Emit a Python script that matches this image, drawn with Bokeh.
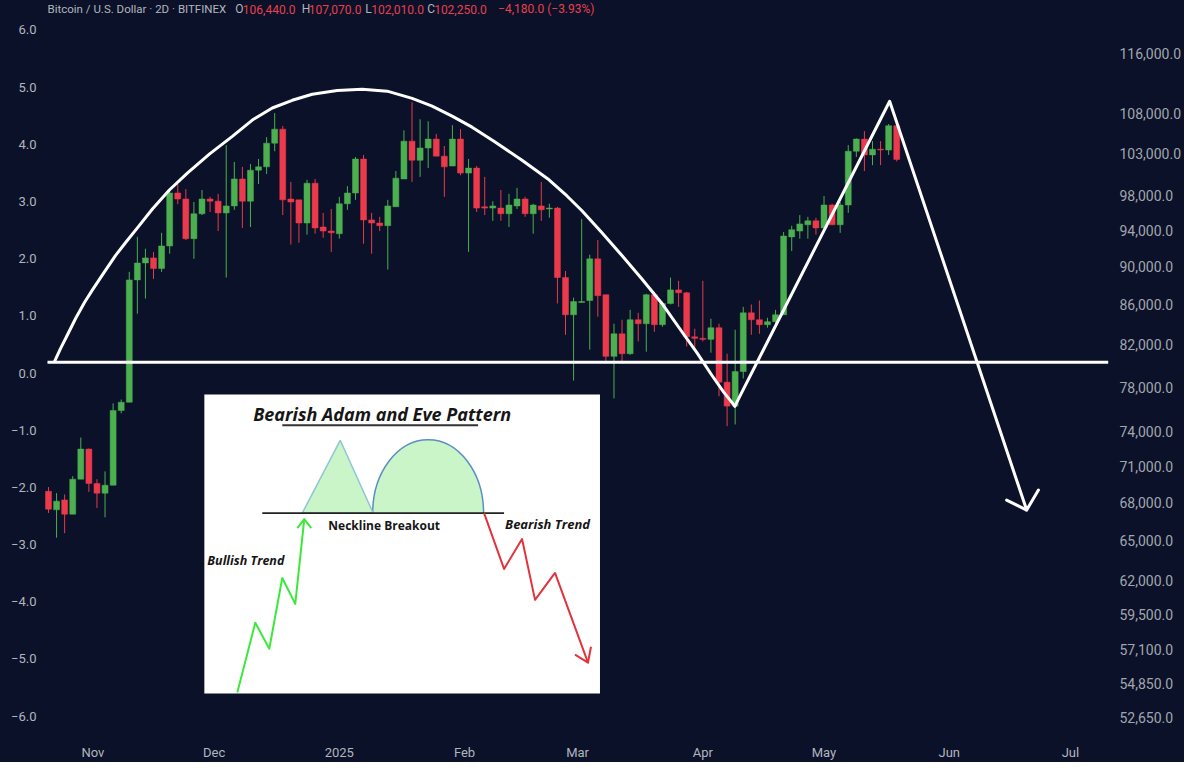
import pandas as pd
from bokeh.plotting import figure
from bokeh.models import (ColumnDataSource, Range1d, LinearAxis, LinearScale,
                          FixedTicker, NumeralTickFormatter, Label)
from bokeh.embed import file_html
from bokeh.resources import INLINE

# ---------------- data: BTC/USD 2D candles (Bitfinex) ----------------
first_bar = "2024-10-21"
opens = [68900, 67400, 68200, 67050, 69900, 72450, 69550, 68750, 69400, 75850,
         76600, 88600, 90400, 90950, 89800, 92250, 98250, 97550, 93050, 95850,
         97550, 97300, 95950, 96750, 99900, 97300, 100950, 101350, 104250, 106000,
         97550, 97450, 94800, 99400, 94350, 93900, 93600, 97000, 98250, 102300,
         95150, 94800, 94500, 96650, 99900, 104500, 102150, 103650, 104750, 102650,
         101450, 104750, 100600, 101200, 96650, 96500, 96500, 95850, 96750, 97550,
         95850, 96750, 96400, 96500, 88850, 85000, 86250, 86450, 90850, 87050,
         80900, 83100, 81150, 84500, 84100, 87050, 84000, 86150, 87550, 87250,
         82800, 82650, 82550, 83700, 78450, 76250, 79450, 85200, 84500, 84000,
         84300, 85000, 93250, 93900, 94600, 95050, 94250, 96850, 94600, 96850,
         103250, 104750, 102800, 103500, 103400, 106440]
highs = [69250, 68750, 68650, 70150, 73450, 72500, 69900, 70550, 76500, 76850,
         89450, 93250, 91950, 91600, 93700, 98700, 99300, 98700, 97200, 98600,
         97800, 98150, 104000, 101950, 101350, 101700, 102300, 105000, 108050, 106400,
         99550, 97450, 99800, 99900, 95950, 96400, 97800, 99050, 102550, 102800,
         95950, 95500, 97450, 100850, 105850, 109450, 107250, 107000, 105400, 103900,
         106500, 106000, 102300, 101450, 100150, 97300, 98600, 98150, 98850, 97800,
         97000, 99550, 97000, 96650, 89550, 86750, 95250, 91300, 92900, 87050,
         84100, 84500, 85500, 85200, 87150, 87350, 86350, 88850, 88500, 87350,
         83600, 88500, 84600, 84100, 81150, 83500, 85800, 86050, 86450, 84700,
         85500, 93800, 94500, 95700, 95500, 95400, 97900, 97000, 97200, 104000,
         104850, 105750, 104500, 104500, 106650, 107070]
lows = [67150, 65200, 65550, 67050, 69900, 68850, 67550, 66800, 69400, 75600,
        76600, 85100, 86650, 88700, 89450, 91400, 96950, 92900, 90850, 95700,
        96050, 93900, 88850, 96300, 94250, 94350, 99300, 100500, 103250, 95700,
        92400, 92600, 93500, 93600, 93150, 91600, 93050, 96300, 97450, 92500,
        91400, 93900, 89700, 96650, 99900, 99550, 100150, 101200, 102650, 97800,
        101450, 100350, 91600, 96050, 95700, 95050, 95050, 94350, 96400, 95500,
        93600, 95050, 95400, 86150, 83000, 78600, 86250, 81550, 84800, 80200,
        76950, 80200, 81050, 82350, 81350, 83300, 83800, 86050, 85800, 81850,
        81650, 82350, 81250, 77150, 74450, 74600, 78800, 83000, 83100, 83700,
        84000, 85000, 91700, 93050, 93050, 93500, 94250, 94600, 93700, 95950,
        102550, 100850, 101550, 101550, 102800, 102010]
closes = [67450, 68100, 67050, 69900, 72450, 69550, 68750, 69400, 75850, 76600,
          88600, 90400, 90950, 89800, 92250, 98250, 97550, 93050, 95850, 97550,
          97300, 95950, 96750, 99900, 97300, 100950, 101350, 104250, 106000, 97450,
          97200, 94800, 99400, 94250, 93900, 93700, 97000, 98250, 102300, 95150,
          94800, 94500, 96750, 100000, 104500, 102150, 103650, 104750, 102650, 101350,
          104750, 100600, 101200, 96500, 96500, 96750, 95850, 96850, 97550, 95850,
          96850, 96300, 96500, 88850, 85000, 86350, 86350, 90850, 86950, 80900,
          83100, 81150, 84500, 84100, 87050, 84000, 86150, 87550, 87250, 82800,
          82650, 82550, 83700, 78450, 76250, 79450, 85200, 84500, 84000, 84300,
          85000, 93350, 94050, 94700, 95050, 94250, 96850, 94600, 96850, 103250,
          104750, 102800, 103500, 103400, 106430, 102250]

# axis ticks / labels
price_ticks = [116000, 108000, 103000, 98000, 94000, 90000, 86000, 82000, 78000,
               74000, 71000, 68000, 65000, 62000, 59500, 57100, 54850, 52650]
left_ticks = [-6, -5, -4, -3, -2, -1, 0, 1, 2, 3, 4, 5, 6]
month_ticks = ["2024-11-01", "2024-12-01", "2025-01-01", "2025-02-01", "2025-03-01",
               "2025-04-01", "2025-05-01", "2025-06-01", "2025-07-01"]
month_labels = ["Nov", "Dec", "2025", "Feb", "Mar", "Apr", "May", "Jun", "Jul"]

# hand-drawn pattern overlay (date, price)
neck_dates = ["2024-10-20 18:00", "2025-07-10 10:00"]
neck_prices = [80340, 80340]
arch_dates = ["2024-10-22 11:40", "2024-10-23 23:15", "2024-10-25 16:50", "2024-10-27 16:15",
              "2024-10-29 21:40", "2024-10-31 21:10", "2024-11-03 20:25", "2024-11-06 13:45",
              "2024-11-09 01:05", "2024-11-12 00:20", "2024-11-15 17:20", "2024-11-19 22:15",
              "2024-11-24 09:05", "2024-11-29 19:45", "2024-12-05 12:15", "2024-12-10 11:00",
              "2024-12-15 09:40", "2024-12-20 08:25", "2024-12-25 07:10", "2024-12-31 11:35",
              "2025-01-06 16:00", "2025-01-12 20:25", "2025-01-19 00:45", "2025-01-23 23:30",
              "2025-01-28 22:15", "2025-02-02 20:55", "2025-02-08 13:30", "2025-02-15 05:45",
              "2025-02-21 22:00", "2025-02-26 08:55", "2025-03-02 01:55", "2025-03-07 00:40",
              "2025-03-11 23:20", "2025-03-16 22:05", "2025-03-21 20:50", "2025-03-26 19:30",
              "2025-03-30 12:35", "2025-04-03 05:35", "2025-04-06 04:50", "2025-04-08 22:10"]
arch_prices = [80400, 81650, 83000, 84600, 86250, 87550, 89450, 91200,
               92600, 94250, 96400, 98600, 100600, 102900, 105100, 107150,
               108700, 109700, 110500, 111000, 111150, 110900, 109950, 108950,
               107650, 106250, 104400, 102150, 99800, 97900, 96200, 93700,
               91200, 88700, 86150, 83300, 81250, 79100, 77500, 76250]
v_dates = ["2025-04-08 22:10", "2025-05-17 06:00", "2025-06-20 04:00"]
v_prices = [76250, 109580, 67380]
head_dates = ["2025-06-15 05:00", "2025-06-20 04:00", "2025-06-23 02:00"]
head_prices = [68180, 67380, 69000]

# inset illustration (local units, origin bottom-left of the white card)
card_w, card_h = 396, 300
underline_u, underline_v = [78, 274], [269, 269]
inset_neck_u, inset_neck_v = [58, 300], [181, 181]
adam_u, adam_v = [98, 136, 169], [181, 254, 181]
eve_cx, eve_cy, eve_w, eve_h = 224, 181, 111, 147
bull_u, bull_v = [33, 51, 65, 78, 91, 100], [1, 71, 45, 116, 90, 175]
bull_head_u, bull_head_v = [93, 100, 107], [166, 175, 166]
bear_u, bear_v = [280, 300, 318, 331, 351, 384], [181, 125, 155, 94, 121, 31]
bear_head_u, bear_head_v = [371, 384, 387], [39, 31, 47]

# ---------------- styling ----------------
BG = "#0a1128"
GREEN = "#4caf50"
RED = "#ea3a4c"
GREY = "#b2b5be"
AXIS_GREY = "#a3a6af"
FONT = "Roboto"

dates = pd.date_range(first_bar, periods=len(opens), freq="2D")
colors = [GREEN if c >= o else RED for o, c in zip(opens, closes)]
src = ColumnDataSource(dict(
    date=dates, o=opens, h=highs, l=lows, c=closes,
    top=[max(o, c) for o, c in zip(opens, closes)],
    bottom=[min(o, c) for o, c in zip(opens, closes)],
    color=colors))

p = figure(width=1184, height=762, x_axis_type="datetime", y_axis_type="log",
           y_axis_location="right",
           x_range=Range1d(pd.Timestamp("2024-10-20 00:15"), pd.Timestamp("2025-07-10 10:20")),
           y_range=Range1d(51532, 123527),
           output_backend="svg", toolbar_location=None,
           background_fill_color=BG, border_fill_color=None,
           min_border_left=44, min_border_right=75, min_border_top=0, min_border_bottom=25)
p.styles = {"background-color": BG}
p.outline_line_color = None
p.xgrid.grid_line_color = None
p.ygrid.grid_line_color = None

p.extra_x_ranges = {"ix": Range1d(-160, 905), "px": Range1d(52, 1117)}
p.extra_y_ranges = {"osc": Range1d(-6.338, 6.513), "iy": Range1d(-42, 695),
                    "py": Range1d(745, 8)}
p.extra_x_scales = {"ix": LinearScale(), "px": LinearScale()}
p.extra_y_scales = {"osc": LinearScale(), "iy": LinearScale(), "py": LinearScale()}


def style_axis(ax, size, color):
    ax.axis_line_color = None
    ax.major_tick_line_color = None
    ax.minor_tick_line_color = None
    ax.major_tick_out = 0
    ax.major_tick_in = 0
    ax.minor_tick_out = 0
    ax.major_label_text_font = FONT
    ax.major_label_text_font_size = size
    ax.major_label_text_color = color


# right price axis (log)
yax = p.yaxis[0]
yax.ticker = FixedTicker(ticks=price_ticks)
yax.formatter = NumeralTickFormatter(format="0,0.0")
style_axis(yax, "14px", AXIS_GREY)
yax.major_label_standoff = 11

# left scale
lax = LinearAxis(y_range_name="osc", ticker=FixedTicker(ticks=left_ticks),
                 major_label_overrides={t: f"{t:.1f}".replace("-", "\u2212") for t in left_ticks})
style_axis(lax, "13px", GREY)
lax.major_label_standoff = 8
p.add_layout(lax, "left")

# bottom time axis
month_ms = [int(pd.Timestamp(m).value // 10**6) for m in month_ticks]
xax = p.xaxis[0]
xax.ticker = FixedTicker(ticks=month_ms)
xax.major_label_overrides = dict(zip(month_ms, month_labels))
style_axis(xax, "13px", GREY)
xax.major_label_standoff = 9

# ---------------- candles ----------------
body_w = 1.48 * 24 * 3600 * 1000
p.segment(x0="date", y0="l", x1="date", y1="h", line_color="color", line_width=1, source=src)
p.vbar(x="date", width=body_w, top="top", bottom="bottom",
       fill_color="color", line_color="color", line_width=0.5, source=src)

# ---------------- white pattern overlay ----------------
lw = 3
p.line(pd.to_datetime(neck_dates), neck_prices, line_color="white", line_width=lw)
p.line(pd.to_datetime(arch_dates), arch_prices, line_color="white", line_width=lw,
       line_join="round", line_cap="round")
p.line(pd.to_datetime(v_dates), v_prices, line_color="white", line_width=lw,
       line_join="round", line_cap="round")
p.line(pd.to_datetime(head_dates), head_prices, line_color="white", line_width=lw,
       line_join="round", line_cap="round")

# ---------------- inset illustration ----------------
R = dict(x_range_name="ix", y_range_name="iy")
p.quad(left=[0], right=[card_w], bottom=[0], top=[card_h], fill_color="white",
       line_color=None, **R)
p.ellipse(x=[eve_cx], y=[eve_cy], width=[eve_w], height=[eve_h],
          fill_color="#c9f5c9", line_color="#5b8fc4", line_width=1.5, **R)
p.quad(left=[eve_cx - eve_w / 2 - 4], right=[eve_cx + eve_w / 2 + 4],
       bottom=[eve_cy - eve_h / 2 - 4], top=[eve_cy - 0.6],
       fill_color="white", line_color=None, **R)
p.patch(adam_u, adam_v, fill_color="#c9f5c9", line_color="#8fc6d6", line_width=1.5, **R)
p.line(inset_neck_u, inset_neck_v, line_color="#222222", line_width=1.6, **R)
p.line(underline_u, underline_v, line_color="#333333", line_width=2, **R)
p.line(bull_u, bull_v, line_color="#3de83d", line_width=2, line_join="round", **R)
p.line(bull_head_u, bull_head_v, line_color="#3de83d", line_width=2, line_join="round", **R)
p.line(bear_u, bear_v, line_color="#e2333d", line_width=2, line_join="round", **R)
p.line(bear_head_u, bear_head_v, line_color="#e2333d", line_width=2, line_join="round", **R)


def lab(text, x, y, rx, ry, **kw):
    opts = dict(text_font=FONT, text_baseline="middle", text_align="left")
    opts.update(kw)
    p.add_layout(Label(x=x, y=y, x_range_name=rx, y_range_name=ry, text=text, **opts))


INK = "#161616"
lab("Bearish Adam and Eve Pattern", 178, 280, "ix", "iy", text_font="Open Sans",
    text_font_style="bold italic", text_font_size="18px", text_color=INK, text_align="center")
lab("Neckline Breakout", 180, 169, "ix", "iy", text_font="Open Sans",
    text_font_style="bold", text_font_size="12px", text_color=INK, text_align="center")
lab("Bullish Trend", 3, 133, "ix", "iy", text_font="Open Sans",
    text_font_style="bold italic", text_font_size="12.5px", text_color=INK)
lab("Bearish Trend", 301, 170, "ix", "iy", text_font="Open Sans",
    text_font_style="bold italic", text_font_size="13px", text_color=INK)

# ---------------- header legend ----------------
chg = closes[-1] - closes[-2]
pct = chg / closes[-2] * 100


def money(v):
    return f"{v:,.1f}".replace("-", "\u2212")


HRED = "#e8404e"
HS = "12px"
lab("Bitcoin / U.S. Dollar \u00b7 2D \u00b7 BITFINEX", 55, 17, "px", "py",
    text_font_size="11.5px", text_color=GREY)
for letter, lx, val, vx in [("O", 243, opens[-1], 250.5), ("H", 309.5, highs[-1], 316.5),
                            ("L", 373, lows[-1], 379), ("C", 435, closes[-1], 442)]:
    lab(letter, lx, 17, "px", "py", text_font_size=HS, text_color=GREY)
    lab(money(val), vx, 17, "px", "py", text_font_size=HS, text_color=HRED)
lab(f"{money(chg)} ({pct:.2f}%)".replace("-", "\u2212"), 506, 17, "px", "py",
    text_font_size=HS, text_color=HRED)

open("out.html", "w").write(file_html(p, INLINE))
